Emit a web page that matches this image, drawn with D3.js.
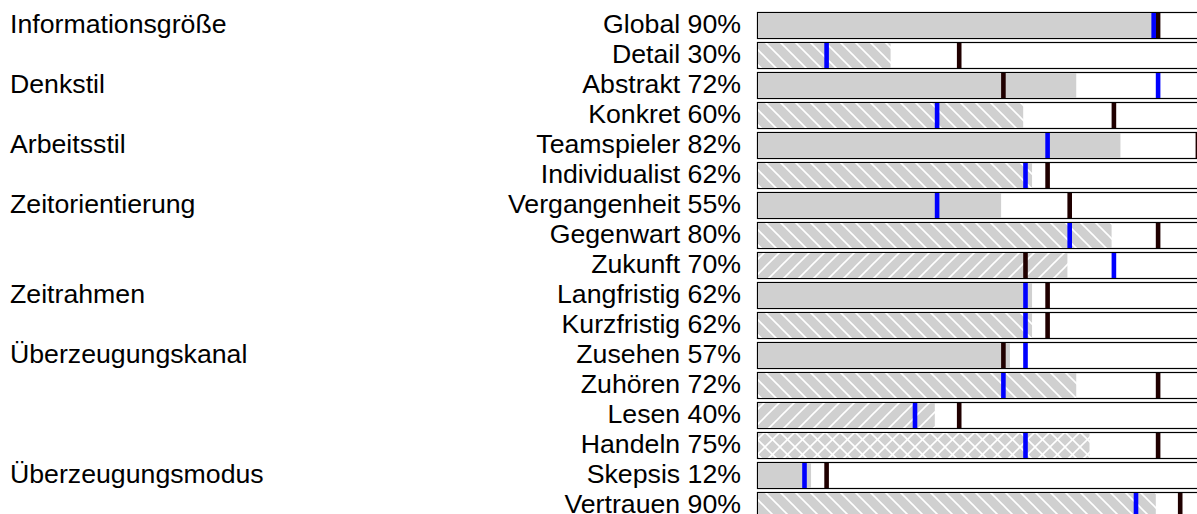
<!DOCTYPE html>
<html>
<head>
<meta charset="utf-8">
<script src="https://cdn.jsdelivr.net/npm/d3@7"></script>
<style>
  body { margin: 0; background: #fff; }
  svg text { font-family: "Liberation Sans", Arial, sans-serif; fill: #000; }
</style>
</head>
<body>
<div id="chart"></div>
<script>
"use strict";

// Group headings and the row where each one starts
const groups = ["Informationsgröße", "Denkstil", "Arbeitsstil", "Zeitorientierung", "Zeitrahmen", "Überzeugungskanal", "Überzeugungsmodus"];
const groupRows = [0, 2, 4, 6, 9, 11, 15];

// Rows
const items = ["Global", "Detail", "Abstrakt", "Konkret", "Teamspieler", "Individualist", "Vergangenheit", "Gegenwart", "Zukunft",
    "Langfristig", "Kurzfristig", "Zusehen", "Zuhören", "Lesen", "Handeln", "Skepsis", "Vertrauen"];
const values = [90, 30, 72, 60, 82, 62, 55, 80, 70, 62, 62, 57, 72, 40, 75, 12, 90];
const blueMarks = [89, 15, 90, 40, 65, 60, 40, 70, 80, 60, 60, 60, 55, 35, 60, 10, 85];
const darkMarks = [90, 45, 55, 80, 99, 65, 70, 90, 60, 65, 65, 55, 90, 45, 90, 15, 95];
const hatches = ["", "\\", "", "\\", "", "\\", "", "\\", "/", "", "\\", "", "\\", "/", "x", "", "\\"];

const width = 1197, height = 514;

const svg = d3.select("#chart")
    .append("svg")
    .attr("width", width)
    .attr("height", height);

// Hatch patterns (white lines on grey)
const defs = svg.append("defs");
const hatchSize = 15;
const patternDefs = {
    "\\": ["M0,0L15,15", "M-15,0L15,30", "M0,-15L30,15"],
    "/": ["M0,15L15,0", "M-15,15L15,-15", "M0,30L30,0"],
    "x": ["M0,0L15,15", "M-15,0L15,30", "M0,-15L30,15", "M0,15L15,0", "M-15,15L15,-15", "M0,30L30,0"]
};
const patternIds = { "\\": "hatch-back", "/": "hatch-fwd", "x": "hatch-cross" };
Object.keys(patternDefs).forEach(key => {
    const p = defs.append("pattern")
        .attr("id", patternIds[key])
        .attr("patternUnits", "userSpaceOnUse")
        .attr("width", hatchSize)
        .attr("height", hatchSize);
    p.append("rect").attr("width", hatchSize).attr("height", hatchSize).attr("fill", "#d0d0d0");
    p.selectAll("path")
        .data(patternDefs[key])
        .join("path")
        .attr("d", d => d)
        .attr("stroke", "#fff")
        .attr("stroke-width", 1.6);
});

// Scales
const x = d3.scaleLinear().domain([0, 100]).range([758, 1200]);
const y = d3.scaleBand()
    .domain(d3.range(items.length))
    .range([10.5, 10.5 + items.length * 30])
    .paddingInner(0.1)
    .paddingOuter(0.05);

const rows = svg.selectAll(".row")
    .data(items.map((name, i) => ({
        name, i, value: values[i], blue: blueMarks[i], dark: darkMarks[i], hatch: hatches[i]
    })))
    .join("g")
    .attr("class", "row")
    .attr("transform", d => `translate(0,${y(d.i)})`);

// Outer box
rows.append("rect")
    .attr("x", x(0) - 0.5)
    .attr("y", 0.5)
    .attr("width", x(100) - x(0) + 2)
    .attr("height", y.bandwidth() - 1)
    .attr("fill", "#fff")
    .attr("stroke", "#000")
    .attr("stroke-width", 1.2);

// Value bar
rows.append("rect")
    .attr("x", x(0))
    .attr("y", 1)
    .attr("width", d => x(d.value) - x(0))
    .attr("height", y.bandwidth() - 2)
    .attr("fill", d => d.hatch ? `url(#${patternIds[d.hatch]})` : "#d0d0d0");

// Markers
rows.append("rect")
    .attr("x", d => x(d.dark))
    .attr("y", 1)
    .attr("width", 4.6)
    .attr("height", y.bandwidth() - 2)
    .attr("fill", "#200000");

rows.append("rect")
    .attr("x", d => x(d.blue))
    .attr("y", 1)
    .attr("width", 4.6)
    .attr("height", y.bandwidth() - 2)
    .attr("fill", "#0000ff");

// Row labels
rows.append("text")
    .attr("x", 741)
    .attr("y", 20.8)
    .attr("text-anchor", "end")
    .style("font-size", "26.7px")
    .text(d => `${d.name} ${d.value}%`);

// Group labels
svg.selectAll(".group-label")
    .data(groups)
    .join("text")
    .attr("class", "group-label")
    .attr("x", 10)
    .attr("y", (d, i) => y(groupRows[i]) + 20.8)
    .style("font-size", "26.7px")
    .text(d => d);
</script>
</body>
</html>
